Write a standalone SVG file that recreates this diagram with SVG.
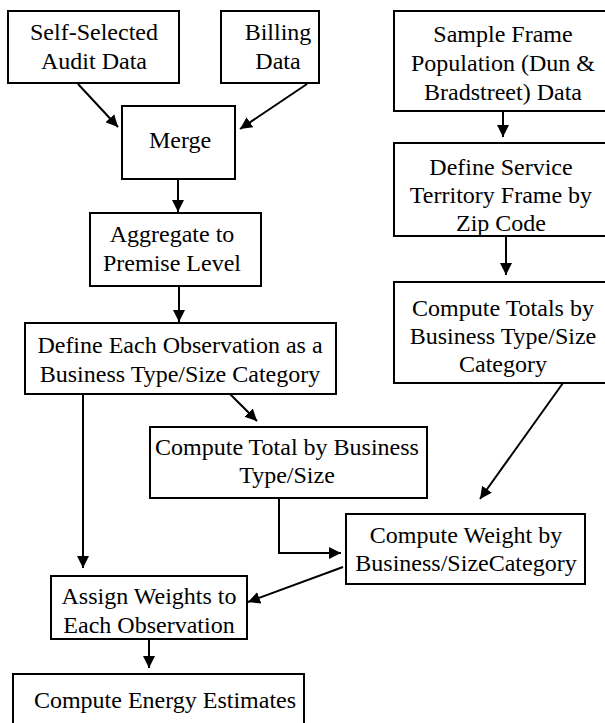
<svg xmlns="http://www.w3.org/2000/svg" width="605" height="723" viewBox="0 0 605 723">
  <style>
    .box { fill: #fff; stroke: #000; stroke-width: 2; }
    .lbl { font-family: "Liberation Serif", "Times New Roman", serif; font-size: 24px; fill: #000; text-anchor: middle; }
    .edge { fill: none; stroke: #000; stroke-width: 2; marker-end: url(#arrow); }
  </style>
  <defs>
    <marker id="arrow" markerUnits="userSpaceOnUse" markerWidth="12" markerHeight="12" refX="12" refY="6" orient="auto">
      <path d="M0,0 L12,6 L0,12 z" fill="#000"/>
    </marker>
  </defs>
  <rect width="605" height="723" fill="#fff"/>

  <!-- arrows between process steps -->
  <g id="connectors">
    <line class="edge" x1="78" y1="84" x2="118" y2="127"/>
    <line class="edge" x1="307" y1="84" x2="240" y2="129"/>
    <line class="edge" x1="178" y1="179" x2="178" y2="212"/>
    <line class="edge" x1="179" y1="286" x2="179" y2="322"/>
    <line class="edge" x1="230" y1="394" x2="257" y2="421"/>
    <line class="edge" x1="83" y1="394" x2="83" y2="568"/>
    <polyline class="edge" points="279,498 279,553 341,553"/>
    <line class="edge" x1="563" y1="383" x2="480" y2="499"/>
    <line class="edge" x1="343" y1="567" x2="248" y2="602"/>
    <line class="edge" x1="149" y1="639" x2="149" y2="668"/>
    <line class="edge" x1="503" y1="111" x2="503" y2="137"/>
    <line class="edge" x1="506" y1="236" x2="506" y2="275"/>
  </g>

  <g id="self-selected">
    <rect class="box" x="8" y="11" width="171" height="72"/>
    <text class="lbl" x="94" y="40">Self-Selected</text>
    <text class="lbl" x="94" y="69">Audit Data</text>
  </g>
  <g id="billing">
    <rect class="box" x="221" y="11" width="98" height="72"/>
    <text class="lbl" x="278" y="40">Billing</text>
    <text class="lbl" x="278" y="69">Data</text>
  </g>
  <g id="merge">
    <rect class="box" x="122" y="106" width="113" height="73"/>
    <text class="lbl" x="180" y="148">Merge</text>
  </g>
  <g id="aggregate">
    <rect class="box" x="90" y="213" width="171" height="73"/>
    <text class="lbl" x="172" y="242">Aggregate to</text>
    <text class="lbl" x="172" y="271">Premise Level</text>
  </g>
  <g id="define-each">
    <rect class="box" x="25" y="323" width="311" height="71"/>
    <text class="lbl" x="180" y="353">Define Each Observation as a</text>
    <text class="lbl" x="180" y="382">Business Type/Size Category</text>
  </g>
  <g id="compute-total">
    <rect class="box" x="150" y="427" width="277" height="71"/>
    <text class="lbl" x="287" y="455">Compute Total by Business</text>
    <text class="lbl" x="287" y="483">Type/Size</text>
  </g>
  <g id="compute-weight">
    <rect class="box" x="346" y="514" width="239" height="70"/>
    <text class="lbl" x="466" y="543">Compute Weight by</text>
    <text class="lbl" x="466" y="571">Business/SizeCategory</text>
  </g>
  <g id="assign-weights">
    <rect class="box" x="51" y="576" width="196" height="63"/>
    <text class="lbl" x="149" y="604">Assign Weights to</text>
    <text class="lbl" x="149" y="633">Each Observation</text>
  </g>
  <g id="energy-estimates">
    <rect class="box" x="13" y="674" width="291" height="60"/>
    <text class="lbl" x="165" y="708">Compute Energy Estimates</text>
  </g>
  <g id="sample-frame">
    <rect class="box" x="394" y="11" width="214" height="100"/>
    <text class="lbl" x="503" y="42">Sample Frame</text>
    <text class="lbl" x="503" y="71">Population (Dun &amp;</text>
    <text class="lbl" x="503" y="100">Bradstreet) Data</text>
  </g>
  <g id="service-territory">
    <rect class="box" x="394" y="143" width="214" height="93"/>
    <text class="lbl" x="501" y="175">Define Service</text>
    <text class="lbl" x="501" y="203">Territory Frame by</text>
    <text class="lbl" x="501" y="231">Zip Code</text>
  </g>
  <g id="frame-totals">
    <rect class="box" x="394" y="282" width="214" height="101"/>
    <text class="lbl" x="503" y="316">Compute Totals by</text>
    <text class="lbl" x="503" y="344">Business Type/Size</text>
    <text class="lbl" x="503" y="372">Category</text>
  </g>
</svg>
